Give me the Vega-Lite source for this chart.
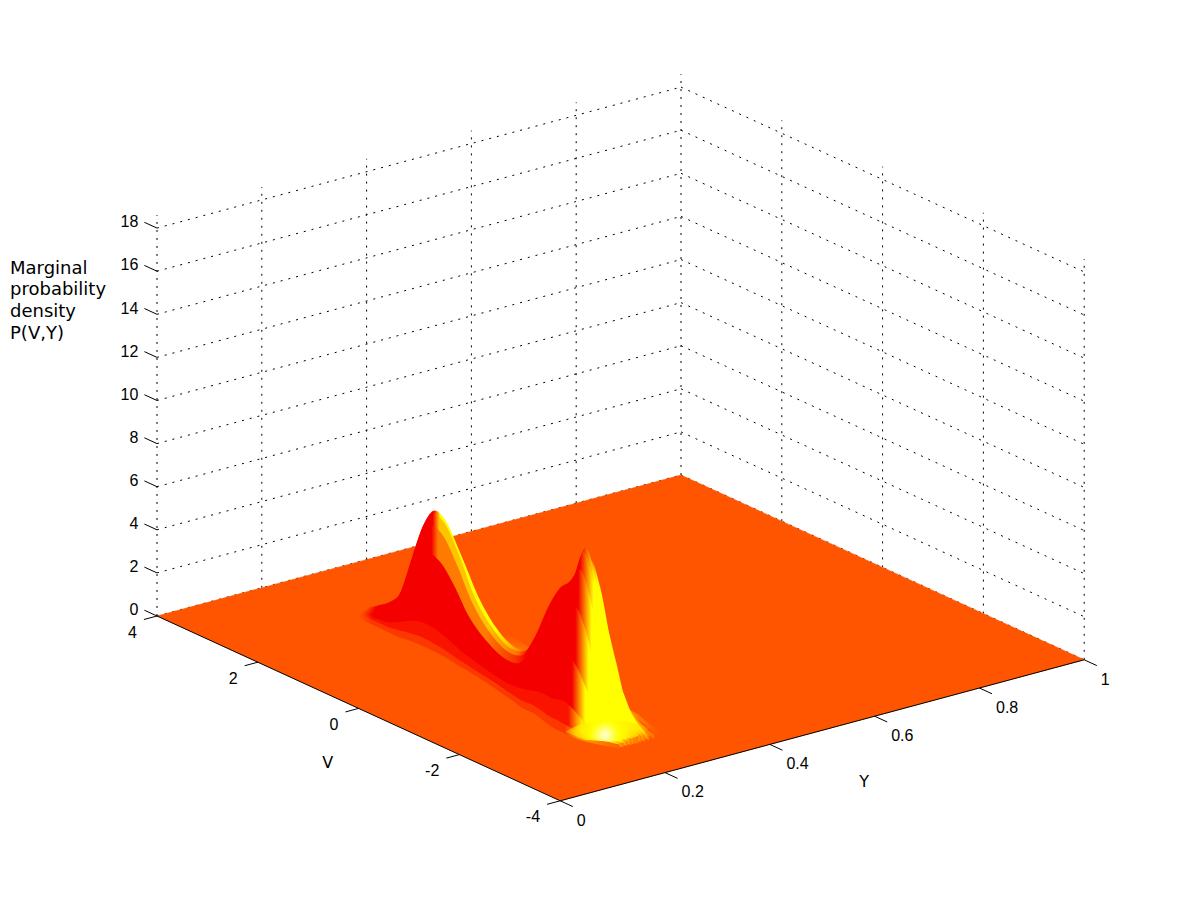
{"$schema":"https://vega.github.io/schema/vega-lite/v6.json","width":1200,"height":900,"padding":0,"autosize":"none","background":"white","config":{"view":{"stroke":null}},
"datasets":{
"grid":[
{"l":"a0","Y":0,"V":4,"P":0},{"l":"a0","Y":1,"V":4,"P":0},{"l":"a2","Y":0,"V":4,"P":2},{"l":"a2","Y":1,"V":4,"P":2},{"l":"a4","Y":0,"V":4,"P":4},{"l":"a4","Y":1,"V":4,"P":4},{"l":"a6","Y":0,"V":4,"P":6},{"l":"a6","Y":1,"V":4,"P":6},{"l":"a8","Y":0,"V":4,"P":8},{"l":"a8","Y":1,"V":4,"P":8},{"l":"a10","Y":0,"V":4,"P":10},{"l":"a10","Y":1,"V":4,"P":10},{"l":"a12","Y":0,"V":4,"P":12},{"l":"a12","Y":1,"V":4,"P":12},{"l":"a14","Y":0,"V":4,"P":14},{"l":"a14","Y":1,"V":4,"P":14},{"l":"a16","Y":0,"V":4,"P":16},{"l":"a16","Y":1,"V":4,"P":16},{"l":"a18","Y":0,"V":4,"P":18},{"l":"a18","Y":1,"V":4,"P":18},
{"l":"b0","Y":1,"V":4,"P":0},{"l":"b0","Y":1,"V":-4,"P":0},{"l":"b2","Y":1,"V":4,"P":2},{"l":"b2","Y":1,"V":-4,"P":2},{"l":"b4","Y":1,"V":4,"P":4},{"l":"b4","Y":1,"V":-4,"P":4},{"l":"b6","Y":1,"V":4,"P":6},{"l":"b6","Y":1,"V":-4,"P":6},{"l":"b8","Y":1,"V":4,"P":8},{"l":"b8","Y":1,"V":-4,"P":8},{"l":"b10","Y":1,"V":4,"P":10},{"l":"b10","Y":1,"V":-4,"P":10},{"l":"b12","Y":1,"V":4,"P":12},{"l":"b12","Y":1,"V":-4,"P":12},{"l":"b14","Y":1,"V":4,"P":14},{"l":"b14","Y":1,"V":-4,"P":14},{"l":"b16","Y":1,"V":4,"P":16},{"l":"b16","Y":1,"V":-4,"P":16},{"l":"b18","Y":1,"V":4,"P":18},{"l":"b18","Y":1,"V":-4,"P":18},
{"l":"c0","Y":0,"V":4,"P":0},{"l":"c0","Y":0,"V":4,"P":18.6},{"l":"c2","Y":0.2,"V":4,"P":0},{"l":"c2","Y":0.2,"V":4,"P":18.6},{"l":"c4","Y":0.4,"V":4,"P":0},{"l":"c4","Y":0.4,"V":4,"P":18.6},{"l":"c6","Y":0.6,"V":4,"P":0},{"l":"c6","Y":0.6,"V":4,"P":18.6},{"l":"c8","Y":0.8,"V":4,"P":0},{"l":"c8","Y":0.8,"V":4,"P":18.6},{"l":"c10","Y":1,"V":4,"P":0},{"l":"c10","Y":1,"V":4,"P":18.6},
{"l":"d2","Y":1,"V":2,"P":0},{"l":"d2","Y":1,"V":2,"P":18.6},{"l":"d0","Y":1,"V":0,"P":0},{"l":"d0","Y":1,"V":0,"P":18.6},{"l":"dm2","Y":1,"V":-2,"P":0},{"l":"dm2","Y":1,"V":-2,"P":18.6},{"l":"dm4","Y":1,"V":-4,"P":0},{"l":"dm4","Y":1,"V":-4,"P":18.6}],
"plane":[{"n":1,"Y":0,"V":4,"P":0},{"n":2,"Y":1,"V":4,"P":0},{"n":3,"Y":1,"V":-4,"P":0},{"n":4,"Y":0,"V":-4,"P":0}],
"tail":[{"n":1,"V":1.4,"Y":0.29,"P":0},{"n":2,"V":1.05,"Y":0.38,"P":0},{"n":3,"V":0.4,"Y":0.365,"P":0},{"n":4,"V":-0.45,"Y":0.315,"P":0},{"n":5,"V":-0.55,"Y":0.27,"P":0},{"n":6,"V":0.5,"Y":0.27,"P":0}],
"glow":[{"n":1,"V":-2.67,"Y":0.3,"P":0},{"n":2,"V":-2.36,"Y":0.291,"P":0},{"n":3,"V":-2.12,"Y":0.266,"P":0},{"n":4,"V":-2.05,"Y":0.226,"P":0},{"n":5,"V":-2.15,"Y":0.187,"P":0},{"n":6,"V":-2.52,"Y":0.19,"P":0},{"n":7,"V":-2.76,"Y":0.215,"P":0},{"n":8,"V":-2.81,"Y":0.258,"P":0}],
"slices":[
{"k":3,"V":2.6,"Y":0.287,"P":0},{"k":3,"V":2,"Y":0.302,"P":0.02},{"k":3,"V":1.4,"Y":0.313,"P":0.06},{"k":3,"V":0.9,"Y":0.316,"P":0.05},{"k":3,"V":0.2,"Y":0.328,"P":0.02},{"k":3,"V":-0.5,"Y":0.324,"P":0.02},{"k":3,"V":-1.1,"Y":0.32,"P":0.05},{"k":3,"V":-1.5,"Y":0.321,"P":0.06},{"k":3,"V":-1.9,"Y":0.316,"P":0.09},{"k":3,"V":-2.3,"Y":0.316,"P":0.05},{"k":3,"V":-2.5,"Y":0.31,"P":0.02},{"k":3,"V":-2.9,"Y":0.297,"P":0},
{"k":2.2,"V":2.6,"Y":0.281,"P":0.01},{"k":2.2,"V":2.4,"Y":0.286,"P":0.04},{"k":2.2,"V":2.2,"Y":0.29,"P":0.07},{"k":2.2,"V":2,"Y":0.294,"P":0.12},{"k":2.2,"V":1.8,"Y":0.299,"P":0.28},{"k":2.2,"V":1.6,"Y":0.302,"P":0.45},{"k":2.2,"V":1.4,"Y":0.304,"P":0.52},{"k":2.2,"V":1.2,"Y":0.304,"P":0.5},{"k":2.2,"V":0.9,"Y":0.306,"P":0.4},{"k":2.2,"V":0.6,"Y":0.311,"P":0.26},{"k":2.2,"V":0.2,"Y":0.315,"P":0.15},{"k":2.2,"V":-0.2,"Y":0.317,"P":0.11},{"k":2.2,"V":-0.5,"Y":0.31,"P":0.13},{"k":2.2,"V":-0.8,"Y":0.307,"P":0.23},{"k":2.2,"V":-1.1,"Y":0.304,"P":0.38},{"k":2.2,"V":-1.3,"Y":0.304,"P":0.47},{"k":2.2,"V":-1.5,"Y":0.304,"P":0.52},{"k":2.2,"V":-1.7,"Y":0.298,"P":0.58},{"k":2.2,"V":-1.9,"Y":0.298,"P":0.7},{"k":2.2,"V":-2.1,"Y":0.298,"P":0.6},{"k":2.2,"V":-2.3,"Y":0.298,"P":0.38},{"k":2.2,"V":-2.5,"Y":0.294,"P":0.18},{"k":2.2,"V":-2.7,"Y":0.289,"P":0.07},{"k":2.2,"V":-2.9,"Y":0.286,"P":0.01},
{"k":1.5,"V":2.6,"Y":0.277,"P":0.04},{"k":1.5,"V":2.4,"Y":0.28,"P":0.15},{"k":1.5,"V":2.2,"Y":0.284,"P":0.26},{"k":1.5,"V":2,"Y":0.287,"P":0.46},{"k":1.5,"V":1.8,"Y":0.292,"P":1.04},{"k":1.5,"V":1.6,"Y":0.295,"P":1.63},{"k":1.5,"V":1.4,"Y":0.297,"P":1.9},{"k":1.5,"V":1.2,"Y":0.297,"P":1.84},{"k":1.5,"V":0.9,"Y":0.298,"P":1.45},{"k":1.5,"V":0.6,"Y":0.301,"P":0.94},{"k":1.5,"V":0.2,"Y":0.304,"P":0.54},{"k":1.5,"V":-0.2,"Y":0.304,"P":0.39},{"k":1.5,"V":-0.5,"Y":0.297,"P":0.47},{"k":1.5,"V":-0.8,"Y":0.294,"P":0.85},{"k":1.5,"V":-1.1,"Y":0.29,"P":1.4},{"k":1.5,"V":-1.3,"Y":0.29,"P":1.72},{"k":1.5,"V":-1.5,"Y":0.29,"P":1.89},{"k":1.5,"V":-1.7,"Y":0.284,"P":2.11},{"k":1.5,"V":-1.9,"Y":0.283,"P":2.55},{"k":1.5,"V":-2.1,"Y":0.283,"P":2.18},{"k":1.5,"V":-2.3,"Y":0.283,"P":1.4},{"k":1.5,"V":-2.5,"Y":0.28,"P":0.65},{"k":1.5,"V":-2.7,"Y":0.278,"P":0.24},{"k":1.5,"V":-2.9,"Y":0.276,"P":0.03},
{"k":0.9,"V":2.6,"Y":0.272,"P":0.08},{"k":0.9,"V":2.4,"Y":0.275,"P":0.3},{"k":0.9,"V":2.2,"Y":0.278,"P":0.53},{"k":0.9,"V":2,"Y":0.281,"P":0.93},{"k":0.9,"V":1.8,"Y":0.285,"P":2.13},{"k":0.9,"V":1.6,"Y":0.288,"P":3.34},{"k":0.9,"V":1.4,"Y":0.29,"P":3.9},{"k":0.9,"V":1.2,"Y":0.29,"P":3.77},{"k":0.9,"V":0.9,"Y":0.291,"P":2.97},{"k":0.9,"V":0.6,"Y":0.293,"P":1.93},{"k":0.9,"V":0.2,"Y":0.294,"P":1.1},{"k":0.9,"V":-0.2,"Y":0.293,"P":0.8},{"k":0.9,"V":-0.5,"Y":0.286,"P":0.97},{"k":0.9,"V":-0.8,"Y":0.282,"P":1.73},{"k":0.9,"V":-1.1,"Y":0.278,"P":2.87},{"k":0.9,"V":-1.3,"Y":0.278,"P":3.54},{"k":0.9,"V":-1.5,"Y":0.277,"P":3.87},{"k":0.9,"V":-1.7,"Y":0.271,"P":4.34},{"k":0.9,"V":-1.9,"Y":0.27,"P":5.24},{"k":0.9,"V":-2.1,"Y":0.27,"P":4.47},{"k":0.9,"V":-2.3,"Y":0.27,"P":2.87},{"k":0.9,"V":-2.5,"Y":0.268,"P":1.33},{"k":0.9,"V":-2.7,"Y":0.267,"P":0.5},{"k":0.9,"V":-2.9,"Y":0.268,"P":0.07},
{"k":0.4,"V":2.6,"Y":0.269,"P":0.11},{"k":0.4,"V":2.4,"Y":0.271,"P":0.42},{"k":0.4,"V":2.2,"Y":0.274,"P":0.74},{"k":0.4,"V":2,"Y":0.276,"P":1.29},{"k":0.4,"V":1.8,"Y":0.279,"P":2.95},{"k":0.4,"V":1.6,"Y":0.282,"P":4.62},{"k":0.4,"V":1.4,"Y":0.284,"P":5.4},{"k":0.4,"V":1.2,"Y":0.284,"P":5.21},{"k":0.4,"V":0.9,"Y":0.285,"P":4.11},{"k":0.4,"V":0.6,"Y":0.286,"P":2.68},{"k":0.4,"V":0.2,"Y":0.286,"P":1.52},{"k":0.4,"V":-0.2,"Y":0.284,"P":1.11},{"k":0.4,"V":-0.5,"Y":0.277,"P":1.34},{"k":0.4,"V":-0.8,"Y":0.273,"P":2.4},{"k":0.4,"V":-1.1,"Y":0.268,"P":3.97},{"k":0.4,"V":-1.3,"Y":0.268,"P":4.89},{"k":0.4,"V":-1.5,"Y":0.266,"P":5.35},{"k":0.4,"V":-1.7,"Y":0.26,"P":6},{"k":0.4,"V":-1.9,"Y":0.259,"P":7.25},{"k":0.4,"V":-2.1,"Y":0.259,"P":6.18},{"k":0.4,"V":-2.3,"Y":0.259,"P":3.97},{"k":0.4,"V":-2.5,"Y":0.258,"P":1.85},{"k":0.4,"V":-2.7,"Y":0.259,"P":0.69},{"k":0.4,"V":-2.9,"Y":0.261,"P":0.09},
{"k":0,"V":2.6,"Y":0.266,"P":0.12},{"k":0,"V":2.4,"Y":0.268,"P":0.45},{"k":0,"V":2.2,"Y":0.27,"P":0.8},{"k":0,"V":2,"Y":0.272,"P":1.4},{"k":0,"V":1.8,"Y":0.275,"P":3.2},{"k":0,"V":1.6,"Y":0.278,"P":5},{"k":0,"V":1.4,"Y":0.28,"P":5.85},{"k":0,"V":1.2,"Y":0.28,"P":5.65},{"k":0,"V":0.9,"Y":0.28,"P":4.45},{"k":0,"V":0.6,"Y":0.28,"P":2.9},{"k":0,"V":0.2,"Y":0.28,"P":1.65},{"k":0,"V":-0.2,"Y":0.277,"P":1.2},{"k":0,"V":-0.5,"Y":0.27,"P":1.45},{"k":0,"V":-0.8,"Y":0.265,"P":2.6},{"k":0,"V":-1.1,"Y":0.26,"P":4.3},{"k":0,"V":-1.3,"Y":0.26,"P":5.3},{"k":0,"V":-1.5,"Y":0.258,"P":5.8},{"k":0,"V":-1.7,"Y":0.252,"P":6.5},{"k":0,"V":-1.9,"Y":0.25,"P":7.85},{"k":0,"V":-2.1,"Y":0.25,"P":6.7},{"k":0,"V":-2.3,"Y":0.25,"P":4.3},{"k":0,"V":-2.5,"Y":0.25,"P":2},{"k":0,"V":-2.7,"Y":0.252,"P":0.75},{"k":0,"V":-2.9,"Y":0.255,"P":0.1},
{"k":-0.2,"V":2.6,"Y":0.265,"P":0.12},{"k":-0.2,"V":2.4,"Y":0.266,"P":0.44},{"k":-0.2,"V":2.2,"Y":0.268,"P":0.78},{"k":-0.2,"V":2,"Y":0.27,"P":1.37},{"k":-0.2,"V":1.8,"Y":0.273,"P":3.14},{"k":-0.2,"V":1.6,"Y":0.276,"P":4.9},{"k":-0.2,"V":1.4,"Y":0.278,"P":5.73},{"k":-0.2,"V":1.2,"Y":0.278,"P":5.54},{"k":-0.2,"V":0.9,"Y":0.278,"P":4.36},{"k":-0.2,"V":0.6,"Y":0.277,"P":2.84},{"k":-0.2,"V":0.2,"Y":0.277,"P":1.62},{"k":-0.2,"V":-0.2,"Y":0.273,"P":1.18},{"k":-0.2,"V":-0.5,"Y":0.266,"P":1.42},{"k":-0.2,"V":-0.8,"Y":0.261,"P":2.55},{"k":-0.2,"V":-1.1,"Y":0.256,"P":4.21},{"k":-0.2,"V":-1.3,"Y":0.256,"P":5.19},{"k":-0.2,"V":-1.5,"Y":0.254,"P":5.68},{"k":-0.2,"V":-1.7,"Y":0.248,"P":6.37},{"k":-0.2,"V":-1.9,"Y":0.246,"P":7.69},{"k":-0.2,"V":-2.1,"Y":0.246,"P":6.57},{"k":-0.2,"V":-2.3,"Y":0.246,"P":4.21},{"k":-0.2,"V":-2.5,"Y":0.246,"P":1.96},{"k":-0.2,"V":-2.7,"Y":0.249,"P":0.74},{"k":-0.2,"V":-2.9,"Y":0.252,"P":0.1},
{"k":-0.5,"V":2.6,"Y":0.263,"P":0.11},{"k":-0.5,"V":2.4,"Y":0.264,"P":0.4},{"k":-0.5,"V":2.2,"Y":0.266,"P":0.71},{"k":-0.5,"V":2,"Y":0.267,"P":1.23},{"k":-0.5,"V":1.8,"Y":0.27,"P":2.82},{"k":-0.5,"V":1.6,"Y":0.273,"P":4.41},{"k":-0.5,"V":1.4,"Y":0.275,"P":5.16},{"k":-0.5,"V":1.2,"Y":0.275,"P":4.98},{"k":-0.5,"V":0.9,"Y":0.274,"P":3.92},{"k":-0.5,"V":0.6,"Y":0.273,"P":2.56},{"k":-0.5,"V":0.2,"Y":0.272,"P":1.46},{"k":-0.5,"V":-0.2,"Y":0.268,"P":1.06},{"k":-0.5,"V":-0.5,"Y":0.261,"P":1.28},{"k":-0.5,"V":-0.8,"Y":0.256,"P":2.29},{"k":-0.5,"V":-1.1,"Y":0.25,"P":3.79},{"k":-0.5,"V":-1.3,"Y":0.25,"P":4.67},{"k":-0.5,"V":-1.5,"Y":0.248,"P":5.12},{"k":-0.5,"V":-1.7,"Y":0.242,"P":5.73},{"k":-0.5,"V":-1.9,"Y":0.239,"P":6.92},{"k":-0.5,"V":-2.1,"Y":0.239,"P":5.91},{"k":-0.5,"V":-2.3,"Y":0.239,"P":3.79},{"k":-0.5,"V":-2.5,"Y":0.24,"P":1.76},{"k":-0.5,"V":-2.7,"Y":0.244,"P":0.66},{"k":-0.5,"V":-2.9,"Y":0.248,"P":0.09},
{"k":-0.9,"V":2.6,"Y":0.26,"P":0.08},{"k":-0.9,"V":2.4,"Y":0.261,"P":0.3},{"k":-0.9,"V":2.2,"Y":0.262,"P":0.53},{"k":-0.9,"V":2,"Y":0.263,"P":0.93},{"k":-0.9,"V":1.8,"Y":0.265,"P":2.13},{"k":-0.9,"V":1.6,"Y":0.268,"P":3.34},{"k":-0.9,"V":1.4,"Y":0.27,"P":3.9},{"k":-0.9,"V":1.2,"Y":0.27,"P":3.77},{"k":-0.9,"V":0.9,"Y":0.269,"P":2.97},{"k":-0.9,"V":0.6,"Y":0.267,"P":1.93},{"k":-0.9,"V":0.2,"Y":0.266,"P":1.1},{"k":-0.9,"V":-0.2,"Y":0.261,"P":0.8},{"k":-0.9,"V":-0.5,"Y":0.254,"P":0.97},{"k":-0.9,"V":-0.8,"Y":0.248,"P":1.73},{"k":-0.9,"V":-1.1,"Y":0.242,"P":2.87},{"k":-0.9,"V":-1.3,"Y":0.242,"P":3.54},{"k":-0.9,"V":-1.5,"Y":0.239,"P":3.87},{"k":-0.9,"V":-1.7,"Y":0.233,"P":4.34},{"k":-0.9,"V":-1.9,"Y":0.23,"P":5.24},{"k":-0.9,"V":-2.1,"Y":0.23,"P":4.47},{"k":-0.9,"V":-2.3,"Y":0.23,"P":2.87},{"k":-0.9,"V":-2.5,"Y":0.232,"P":1.33},{"k":-0.9,"V":-2.7,"Y":0.237,"P":0.5},{"k":-0.9,"V":-2.9,"Y":0.242,"P":0.07},
{"k":-1.4,"V":2.6,"Y":0.256,"P":0.05},{"k":-1.4,"V":2.4,"Y":0.257,"P":0.17},{"k":-1.4,"V":2.2,"Y":0.257,"P":0.3},{"k":-1.4,"V":2,"Y":0.258,"P":0.53},{"k":-1.4,"V":1.8,"Y":0.26,"P":1.2},{"k":-1.4,"V":1.6,"Y":0.263,"P":1.88},{"k":-1.4,"V":1.4,"Y":0.265,"P":2.19},{"k":-1.4,"V":1.2,"Y":0.265,"P":2.12},{"k":-1.4,"V":0.9,"Y":0.263,"P":1.67},{"k":-1.4,"V":0.6,"Y":0.26,"P":1.09},{"k":-1.4,"V":0.2,"Y":0.258,"P":0.62},{"k":-1.4,"V":-0.2,"Y":0.252,"P":0.45},{"k":-1.4,"V":-0.5,"Y":0.245,"P":0.54},{"k":-1.4,"V":-0.8,"Y":0.238,"P":0.98},{"k":-1.4,"V":-1.1,"Y":0.232,"P":1.61},{"k":-1.4,"V":-1.3,"Y":0.232,"P":1.99},{"k":-1.4,"V":-1.5,"Y":0.229,"P":2.18},{"k":-1.4,"V":-1.7,"Y":0.223,"P":2.44},{"k":-1.4,"V":-1.9,"Y":0.219,"P":2.94},{"k":-1.4,"V":-2.1,"Y":0.219,"P":2.51},{"k":-1.4,"V":-2.3,"Y":0.219,"P":1.61},{"k":-1.4,"V":-2.5,"Y":0.222,"P":0.75},{"k":-1.4,"V":-2.7,"Y":0.228,"P":0.28},{"k":-1.4,"V":-2.9,"Y":0.235,"P":0.04},
{"k":-2,"V":2.6,"Y":0.252,"P":0.02},{"k":-2,"V":2.4,"Y":0.252,"P":0.06},{"k":-2,"V":2.2,"Y":0.252,"P":0.11},{"k":-2,"V":2,"Y":0.252,"P":0.19},{"k":-2,"V":1.8,"Y":0.253,"P":0.43},{"k":-2,"V":1.6,"Y":0.256,"P":0.68},{"k":-2,"V":1.4,"Y":0.258,"P":0.79},{"k":-2,"V":1.2,"Y":0.258,"P":0.76},{"k":-2,"V":0.9,"Y":0.256,"P":0.6},{"k":-2,"V":0.6,"Y":0.252,"P":0.39},{"k":-2,"V":0.2,"Y":0.248,"P":0.22},{"k":-2,"V":-0.2,"Y":0.241,"P":0.16},{"k":-2,"V":-0.5,"Y":0.234,"P":0.2},{"k":-2,"V":-0.8,"Y":0.227,"P":0.35},{"k":-2,"V":-1.1,"Y":0.22,"P":0.58},{"k":-2,"V":-1.3,"Y":0.22,"P":0.72},{"k":-2,"V":-1.5,"Y":0.216,"P":0.78},{"k":-2,"V":-1.7,"Y":0.21,"P":0.88},{"k":-2,"V":-1.9,"Y":0.206,"P":1.06},{"k":-2,"V":-2.1,"Y":0.206,"P":0.9},{"k":-2,"V":-2.3,"Y":0.206,"P":0.58},{"k":-2,"V":-2.5,"Y":0.21,"P":0.27},{"k":-2,"V":-2.7,"Y":0.218,"P":0.1},{"k":-2,"V":-2.9,"Y":0.227,"P":0.01},
{"k":-2.6,"V":2.6,"Y":0.248,"P":0},{"k":-2.6,"V":2.4,"Y":0.247,"P":0.02},{"k":-2.6,"V":2.2,"Y":0.247,"P":0.03},{"k":-2.6,"V":2,"Y":0.246,"P":0.05},{"k":-2.6,"V":1.8,"Y":0.246,"P":0.11},{"k":-2.6,"V":1.6,"Y":0.249,"P":0.17},{"k":-2.6,"V":1.4,"Y":0.251,"P":0.2},{"k":-2.6,"V":1.2,"Y":0.251,"P":0.19},{"k":-2.6,"V":0.9,"Y":0.249,"P":0.15},{"k":-2.6,"V":0.6,"Y":0.244,"P":0.1},{"k":-2.6,"V":0.2,"Y":0.238,"P":0.06},{"k":-2.6,"V":-0.2,"Y":0.23,"P":0.04},{"k":-2.6,"V":-0.5,"Y":0.223,"P":0.05},{"k":-2.6,"V":-0.8,"Y":0.216,"P":0.09},{"k":-2.6,"V":-1.1,"Y":0.208,"P":0.15},{"k":-2.6,"V":-1.3,"Y":0.208,"P":0.18},{"k":-2.6,"V":-1.5,"Y":0.203,"P":0.2},{"k":-2.6,"V":-1.7,"Y":0.197,"P":0.22},{"k":-2.6,"V":-1.9,"Y":0.193,"P":0.27},{"k":-2.6,"V":-2.1,"Y":0.193,"P":0.23},{"k":-2.6,"V":-2.3,"Y":0.193,"P":0.15},{"k":-2.6,"V":-2.5,"Y":0.198,"P":0.07},{"k":-2.6,"V":-2.7,"Y":0.208,"P":0.03},{"k":-2.6,"V":-2.9,"Y":0.219,"P":0}],
"axes":[
{"l":"e1","Y":0,"V":4,"P":0},{"l":"e1","Y":0,"V":-4,"P":0},{"l":"e2","Y":0,"V":-4,"P":0},{"l":"e2","Y":1,"V":-4,"P":0},
{"l":"z0","Y":0,"V":4,"P":0},{"l":"z0","Y":0,"V":4.25,"P":0},{"l":"z2","Y":0,"V":4,"P":2},{"l":"z2","Y":0,"V":4.25,"P":2},{"l":"z4","Y":0,"V":4,"P":4},{"l":"z4","Y":0,"V":4.25,"P":4},{"l":"z6","Y":0,"V":4,"P":6},{"l":"z6","Y":0,"V":4.25,"P":6},{"l":"z8","Y":0,"V":4,"P":8},{"l":"z8","Y":0,"V":4.25,"P":8},{"l":"z10","Y":0,"V":4,"P":10},{"l":"z10","Y":0,"V":4.25,"P":10},{"l":"z12","Y":0,"V":4,"P":12},{"l":"z12","Y":0,"V":4.25,"P":12},{"l":"z14","Y":0,"V":4,"P":14},{"l":"z14","Y":0,"V":4.25,"P":14},{"l":"z16","Y":0,"V":4,"P":16},{"l":"z16","Y":0,"V":4.25,"P":16},{"l":"z18","Y":0,"V":4,"P":18},{"l":"z18","Y":0,"V":4.25,"P":18},
{"l":"v4","Y":0,"V":4,"P":0},{"l":"v4","Y":-0.025,"V":4,"P":0},{"l":"v2","Y":0,"V":2,"P":0},{"l":"v2","Y":-0.025,"V":2,"P":0},{"l":"v0","Y":0,"V":0,"P":0},{"l":"v0","Y":-0.025,"V":0,"P":0},{"l":"vm2","Y":0,"V":-2,"P":0},{"l":"vm2","Y":-0.025,"V":-2,"P":0},{"l":"vm4","Y":0,"V":-4,"P":0},{"l":"vm4","Y":-0.025,"V":-4,"P":0},
{"l":"y0","Y":0,"V":-4,"P":0},{"l":"y0","Y":0,"V":-4.25,"P":0},{"l":"y2","Y":0.2,"V":-4,"P":0},{"l":"y2","Y":0.2,"V":-4.25,"P":0},{"l":"y4","Y":0.4,"V":-4,"P":0},{"l":"y4","Y":0.4,"V":-4.25,"P":0},{"l":"y6","Y":0.6,"V":-4,"P":0},{"l":"y6","Y":0.6,"V":-4.25,"P":0},{"l":"y8","Y":0.8,"V":-4,"P":0},{"l":"y8","Y":0.8,"V":-4.25,"P":0},{"l":"y10","Y":1,"V":-4,"P":0},{"l":"y10","Y":1,"V":-4.25,"P":0}],
"zlab":[{"Y":0,"V":4.25,"P":0,"t":"0"},{"Y":0,"V":4.25,"P":2,"t":"2"},{"Y":0,"V":4.25,"P":4,"t":"4"},{"Y":0,"V":4.25,"P":6,"t":"6"},{"Y":0,"V":4.25,"P":8,"t":"8"},{"Y":0,"V":4.25,"P":10,"t":"10"},{"Y":0,"V":4.25,"P":12,"t":"12"},{"Y":0,"V":4.25,"P":14,"t":"14"},{"Y":0,"V":4.25,"P":16,"t":"16"},{"Y":0,"V":4.25,"P":18,"t":"18"}],
"vlab":[{"Y":-0.025,"V":4,"P":0,"t":"4"},{"Y":-0.025,"V":2,"P":0,"t":"2"},{"Y":-0.025,"V":0,"P":0,"t":"0"},{"Y":-0.025,"V":-2,"P":0,"t":"-2"},{"Y":-0.025,"V":-4,"P":0,"t":"-4"}],
"ylab":[{"Y":0,"V":-4.25,"P":0,"t":"0"},{"Y":0.2,"V":-4.25,"P":0,"t":"0.2"},{"Y":0.4,"V":-4.25,"P":0,"t":"0.4"},{"Y":0.6,"V":-4.25,"P":0,"t":"0.6"},{"Y":0.8,"V":-4.25,"P":0,"t":"0.8"},{"Y":1,"V":-4.25,"P":0,"t":"1"}],
"titles":[{"Y":-0.18,"V":-1.26,"P":0,"t":"V","a":"c"},{"Y":0.4156,"V":-5.71,"P":0,"t":"Y","a":"c"},{"Y":-0.2805,"V":4,"P":17.94,"t":"Marginal","a":"l"},{"Y":-0.2805,"V":4,"P":16.94,"t":"probability","a":"l"},{"Y":-0.2805,"V":4,"P":15.93,"t":"density","a":"l"},{"Y":-0.2805,"V":4,"P":14.93,"t":"P(V,Y)","a":"l"}]},
"data":{"name":"grid"},
"encoding":{"x":{"field":"sx","type":"quantitative","scale":{"domain":[0,1200],"nice":false,"zero":false},"axis":null},"y":{"field":"sy","type":"quantitative","scale":{"domain":[900,0],"nice":false,"zero":false},"axis":null}},
"layer":[
{"data":{"name":"grid"},"transform":[{"calculate":"358.6+524*datum.Y-50.4*datum.V","as":"sx"},{"calculate":"708.4-141*datum.Y-23.1*datum.V-21.55*datum.P","as":"sy"}],"mark":{"type":"line","stroke":"#000","strokeWidth":1,"strokeDash":[2,6]},"encoding":{"detail":{"field":"l"},"order":{"field":"P"}}},
{"data":{"name":"plane"},"transform":[{"calculate":"358.6+524*datum.Y-50.4*datum.V","as":"sx"},{"calculate":"708.4-141*datum.Y-23.1*datum.V-21.55*datum.P","as":"sy"}],"mark":{"type":"line","fill":"#ff5500","stroke":"#ff5500","strokeWidth":0.5},"encoding":{"order":{"field":"n"}}},
{"data":{"name":"tail"},"transform":[{"calculate":"358.6+524*datum.Y-50.4*datum.V","as":"sx"},{"calculate":"708.4-141*datum.Y-23.1*datum.V-21.55*datum.P","as":"sy"}],"mark":{"type":"line","strokeWidth":0,"fill":{"gradient":"linear","x1":0.3,"y1":1,"x2":0.7,"y2":0,"stops":[{"offset":0.25,"color":"#ffc000"},{"offset":0.9,"color":"#ff5500"}]}},"encoding":{"order":{"field":"n"}}},
{"data":{"name":"slices"},"transform":[{"calculate":"358.6+524*datum.Y-50.4*datum.V","as":"sx"},{"calculate":"708.4-141*datum.Y-23.1*datum.V-21.55*datum.P","as":"sy"},{"calculate":"712.4-141*datum.Y-23.1*datum.V","as":"sy0"}],
"encoding":{"y2":{"field":"sy0"},"detail":{"field":"k"}},
"layer":[
{"transform":[{"filter":"datum.k==3"}],"mark":{"type":"area","interpolate":"monotone","fill":{"gradient":"linear","x1":0,"y1":0,"x2":1,"y2":0,"stops":[{"offset":0,"color":"#ff5500"},{"offset":0.2,"color":"#ff6c00"},{"offset":0.8,"color":"#ff6c00"},{"offset":0.86,"color":"#ffa000"},{"offset":1,"color":"#ff5500"}]}}},
{"transform":[{"filter":"datum.k==2.2"}],"mark":{"type":"area","interpolate":"monotone","fill":{"gradient":"linear","x1":0,"y1":0,"x2":1,"y2":0,"stops":[{"offset":0,"color":"#ff5500"},{"offset":0.2,"color":"#ff8000"},{"offset":0.55,"color":"#ffb000"},{"offset":0.62,"color":"#ff8000"},{"offset":0.8,"color":"#ff9000"},{"offset":0.85,"color":"#ffe000"},{"offset":1,"color":"#ff7000"}]}}},
{"transform":[{"filter":"datum.k>=0&&datum.k<2"}],"mark":{"type":"area","interpolate":"monotone","fill":{"gradient":"linear","x1":0,"y1":0,"x2":1,"y2":0,"stops":[{"offset":0,"color":"#ff5500"},{"offset":0.04,"color":"#f50000"},{"offset":0.245,"color":"#f50000"},{"offset":0.27,"color":"#ffff00"},{"offset":0.47,"color":"#ffff00"},{"offset":0.56,"color":"#ff9000"},{"offset":0.6,"color":"#f50000"},{"offset":0.79,"color":"#f50000"},{"offset":0.84,"color":"#ffff00"},{"offset":0.97,"color":"#ffff00"},{"offset":1,"color":"#ff7000"}]}}},
{"transform":[{"filter":"datum.k==-0.2"}],"mark":{"type":"area","interpolate":"monotone","fill":{"gradient":"linear","x1":0,"y1":0,"x2":1,"y2":0,"stops":[{"offset":0,"color":"#ff5500"},{"offset":0.04,"color":"#f50000"},{"offset":0.245,"color":"#f50000"},{"offset":0.27,"color":"#ffc400"},{"offset":0.45,"color":"#ffc400"},{"offset":0.56,"color":"#ff7000"},{"offset":0.6,"color":"#f50000"},{"offset":0.79,"color":"#f50000"},{"offset":0.84,"color":"#ffff00"},{"offset":0.97,"color":"#ffff00"},{"offset":1,"color":"#ff7000"}]}}},
{"transform":[{"filter":"datum.k==-0.5"}],"mark":{"type":"area","interpolate":"monotone","fill":{"gradient":"linear","x1":0,"y1":0,"x2":1,"y2":0,"stops":[{"offset":0,"color":"#ff5500"},{"offset":0.04,"color":"#f50000"},{"offset":0.245,"color":"#f50000"},{"offset":0.27,"color":"#ff7a00"},{"offset":0.45,"color":"#ff7a00"},{"offset":0.56,"color":"#f83000"},{"offset":0.6,"color":"#f50000"},{"offset":0.79,"color":"#f50000"},{"offset":0.84,"color":"#ffff00"},{"offset":0.97,"color":"#ffff00"},{"offset":1,"color":"#ff7000"}]}}},
{"transform":[{"filter":"datum.k==-0.9||datum.k==-1.4"}],"mark":{"type":"area","interpolate":"monotone","fill":{"gradient":"linear","x1":0,"y1":0,"x2":1,"y2":0,"stops":[{"offset":0,"color":"#ff5500"},{"offset":0.04,"color":"#f50000"},{"offset":0.79,"color":"#f50000"},{"offset":0.84,"color":"#ffff00"},{"offset":0.97,"color":"#ffff00"},{"offset":1,"color":"#ff7000"}]}}},
{"transform":[{"filter":"datum.k==-2"}],"mark":{"type":"area","interpolate":"monotone","fill":{"gradient":"linear","x1":0,"y1":0,"x2":1,"y2":0,"stops":[{"offset":0,"color":"#ff5500"},{"offset":0.05,"color":"#fa1400"},{"offset":0.79,"color":"#fa1400"},{"offset":0.84,"color":"#ffe000"},{"offset":0.97,"color":"#ffe000"},{"offset":1,"color":"#ff7000"}]}}},
{"transform":[{"filter":"datum.k==-2.6"}],"mark":{"type":"area","interpolate":"monotone","fill":{"gradient":"linear","x1":0,"y1":0,"x2":1,"y2":0,"stops":[{"offset":0,"color":"#ff5500"},{"offset":0.05,"color":"#fc3800"},{"offset":0.79,"color":"#fc3800"},{"offset":0.84,"color":"#ffa000"},{"offset":1,"color":"#ff6000"}]}}}
]},
{"data":{"name":"glow"},"transform":[{"calculate":"358.6+524*datum.Y-50.4*datum.V","as":"sx"},{"calculate":"708.4-141*datum.Y-23.1*datum.V-21.55*datum.P","as":"sy"}],"mark":{"type":"line","strokeWidth":0,"fill":{"gradient":"radial","x1":0.47,"y1":0.55,"x2":0.47,"y2":0.55,"r1":0,"r2":0.55,"stops":[{"offset":0,"color":"rgba(255,255,215,1)"},{"offset":0.3,"color":"rgba(255,255,0,0.95)"},{"offset":0.65,"color":"rgba(255,230,0,0.7)"},{"offset":1,"color":"rgba(255,160,0,0)"}]}},"encoding":{"order":{"field":"n"}}},
{"data":{"name":"axes"},"transform":[{"calculate":"358.6+524*datum.Y-50.4*datum.V","as":"sx"},{"calculate":"708.4-141*datum.Y-23.1*datum.V-21.55*datum.P","as":"sy"}],"mark":{"type":"line","stroke":"#000","strokeWidth":1},"encoding":{"detail":{"field":"l"}}},
{"data":{"name":"zlab"},"transform":[{"calculate":"358.6+524*datum.Y-50.4*datum.V","as":"sx"},{"calculate":"708.4-141*datum.Y-23.1*datum.V-21.55*datum.P","as":"sy"}],"mark":{"type":"text","align":"right","baseline":"middle","dx":-6,"font":"Liberation Sans","fontSize":16,"fill":"#000"},"encoding":{"text":{"field":"t"}}},
{"data":{"name":"vlab"},"transform":[{"calculate":"358.6+524*datum.Y-50.4*datum.V","as":"sx"},{"calculate":"708.4-141*datum.Y-23.1*datum.V-21.55*datum.P","as":"sy"}],"mark":{"type":"text","align":"right","baseline":"middle","dx":-7,"dy":13,"font":"Liberation Sans","fontSize":16,"fill":"#000"},"encoding":{"text":{"field":"t"}}},
{"data":{"name":"ylab"},"transform":[{"calculate":"358.6+524*datum.Y-50.4*datum.V","as":"sx"},{"calculate":"708.4-141*datum.Y-23.1*datum.V-21.55*datum.P","as":"sy"}],"mark":{"type":"text","align":"left","baseline":"middle","dx":4,"dy":14,"font":"Liberation Sans","fontSize":16,"fill":"#000"},"encoding":{"text":{"field":"t"}}},
{"data":{"name":"titles"},"transform":[{"filter":"datum.a=='c'"},{"calculate":"358.6+524*datum.Y-50.4*datum.V","as":"sx"},{"calculate":"708.4-141*datum.Y-23.1*datum.V-21.55*datum.P","as":"sy"}],"mark":{"type":"text","align":"center","baseline":"middle","font":"DejaVu Sans","fontSize":16,"fill":"#000"},"encoding":{"text":{"field":"t"}}},
{"data":{"name":"titles"},"transform":[{"filter":"datum.a=='l'"},{"calculate":"358.6+524*datum.Y-50.4*datum.V","as":"sx"},{"calculate":"708.4-141*datum.Y-23.1*datum.V-21.55*datum.P","as":"sy"}],"mark":{"type":"text","align":"left","baseline":"middle","font":"DejaVu Sans","fontSize":18,"fill":"#000"},"encoding":{"text":{"field":"t"}}}
]}
